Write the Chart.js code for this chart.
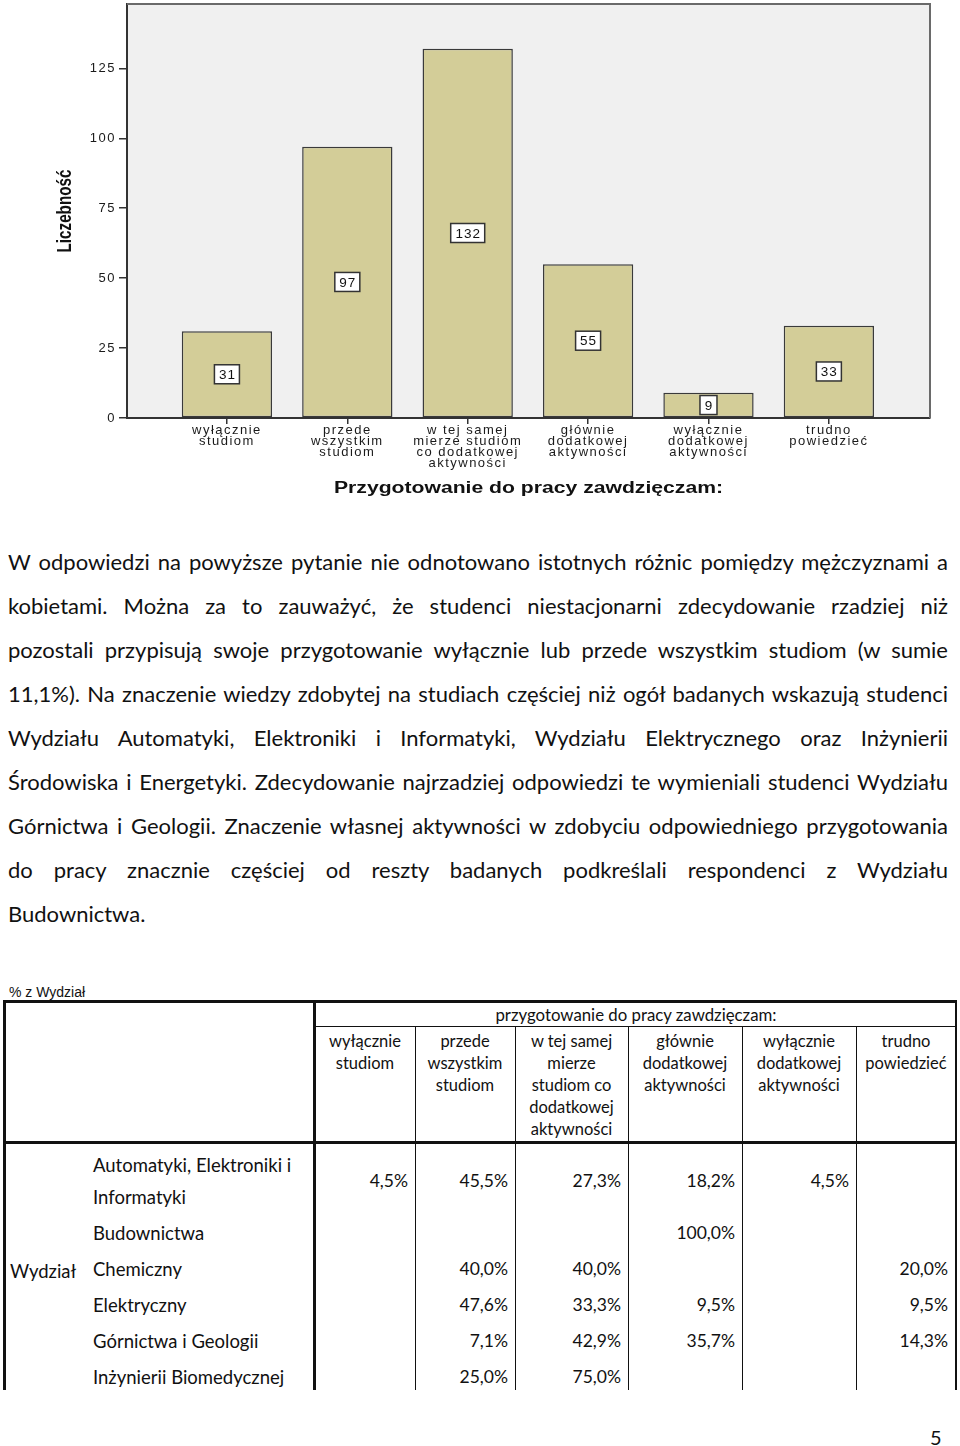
<!DOCTYPE html>
<html><head><meta charset="utf-8">
<script src="https://cdn.jsdelivr.net/npm/chart.js@4/dist/chart.umd.min.js"></script>
<style>
html,body{margin:0;padding:0;background:#fff;}
body{width:960px;height:1446px;position:relative;overflow:hidden;font-family:Lato,"Open Sans",sans-serif;color:#111;}
#chartBox{position:absolute;left:0;top:0;width:960px;height:500px;}
.pl{position:absolute;left:8px;width:940px;height:44px;line-height:44px;font-size:22px;white-space:nowrap;}
.abs{position:absolute;white-space:nowrap;}
.ln{position:absolute;background:#111;}
.hd{position:absolute;top:1030px;text-align:center;font-size:16.5px;line-height:22px;white-space:nowrap;}
.nm{position:absolute;left:93px;font-size:18.5px;line-height:36px;white-space:nowrap;}
.val{position:absolute;text-align:right;font-size:17.5px;line-height:36px;}
</style></head><body>
<div id="chartBox"><canvas id="c" width="960" height="500"></canvas></div>
<div id="page"></div>
<script>
// ---- chart data ----
const categories = [["wyłącznie","studiom"],["przede","wszystkim","studiom"],["w tej samej","mierze studiom","co dodatkowej","aktywności"],["głównie","dodatkowej","aktywności"],["wyłącznie","dodatkowej","aktywności"],["trudno","powiedzieć"]];
const counts = [31, 97, 132, 55, 9, 33];
const yTicks = [0, 25, 50, 75, 100, 125];
const yTitle = "Liczebność";
const xTitle = "Przygotowanie do pracy zawdzięczam:";

// ---- text data ----
const paraLines = [
"W odpowiedzi na powyższe pytanie nie odnotowano istotnych różnic pomiędzy mężczyznami a",
"kobietami. Można za to zauważyć, że studenci niestacjonarni zdecydowanie rzadziej niż",
"pozostali przypisują swoje przygotowanie wyłącznie lub przede wszystkim studiom (w sumie",
"11,1%). Na znaczenie wiedzy zdobytej na studiach częściej niż ogół badanych wskazują studenci",
"Wydziału Automatyki, Elektroniki i Informatyki, Wydziału Elektrycznego oraz Inżynierii",
"Środowiska i Energetyki. Zdecydowanie najrzadziej odpowiedzi te wymieniali studenci Wydziału",
"Górnictwa i Geologii. Znaczenie własnej aktywności w zdobyciu odpowiedniego przygotowania",
"do pracy znacznie częściej od reszty badanych podkreślali respondenci z Wydziału",
"Budownictwa."
];
const tableCaption = "% z Wydział";
const tableTitle = "przygotowanie do pracy zawdzięczam:";
const colHeaders = [["wyłącznie","studiom"],["przede","wszystkim","studiom"],["w tej samej","mierze","studiom co","dodatkowej","aktywności"],["głównie","dodatkowej","aktywności"],["wyłącznie","dodatkowej","aktywności"],["trudno","powiedzieć"]];
const rowGroup = "Wydział";
const rowNames = [["Automatyki, Elektroniki i","Informatyki"],["Budownictwa"],["Chemiczny"],["Elektryczny"],["Górnictwa i Geologii"],["Inżynierii Biomedycznej"]];
const tableValues = [
 ["4,5%","45,5%","27,3%","18,2%","4,5%",""],
 ["","","","100,0%","",""],
 ["","40,0%","40,0%","","","20,0%"],
 ["","47,6%","33,3%","9,5%","","9,5%"],
 ["","7,1%","42,9%","35,7%","","14,3%"],
 ["","25,0%","75,0%","","",""]
];
const pageNumber = "5";

// ---- chart ----
const AX = '"Liberation Sans", Arial, sans-serif';
const LS = '1.5px';
const framePlugin = {
  id: 'frame',
  beforeLayout(chart){ chart.ctx.letterSpacing = LS; },
  beforeDraw(chart){
    const ctx = chart.ctx, a = chart.chartArea;
    ctx.letterSpacing = LS;
    ctx.save();
    ctx.fillStyle = '#f0f0f0';
    ctx.fillRect(a.left, a.top, a.right - a.left, a.bottom - a.top);
    ctx.restore();
  },
  afterDraw(chart){
    const ctx = chart.ctx, a = chart.chartArea;
    ctx.save();
    ctx.strokeStyle = '#6a6a6a'; ctx.lineWidth = 2;
    ctx.beginPath(); ctx.moveTo(a.left, a.top); ctx.lineTo(a.right, a.top); ctx.lineTo(a.right, a.bottom); ctx.stroke();
    // value labels
    const meta = chart.getDatasetMeta(0);
    ctx.font = '13.5px ' + AX;
    ctx.letterSpacing = '1px';
    ctx.textAlign = 'center'; ctx.textBaseline = 'middle';
    meta.data.forEach((bar, i) => {
      const t = String(counts[i]);
      const cx = bar.x, cy = (bar.y + bar.base) / 2;
      const w = ctx.measureText(t).width;
      const bw = Math.round(w + 8), bh = 19;
      ctx.fillStyle = '#fff';
      ctx.fillRect(cx - bw/2, cy - bh/2, bw, bh);
      ctx.strokeStyle = '#333'; ctx.lineWidth = 1.5;
      ctx.strokeRect(cx - bw/2, cy - bh/2, bw, bh);
      ctx.fillStyle = '#111';
      ctx.fillText(t, cx + 0.5, cy + 1);
    });
    // axis titles (stretched like the original)
    ctx.letterSpacing = '0px';
    ctx.fillStyle = '#111';
    ctx.font = 'bold 16px ' + AX;
    let w0 = ctx.measureText(xTitle).width;
    ctx.save();
    ctx.translate((a.left + a.right) / 2, 489);
    ctx.scale(389 / w0, 1);
    ctx.fillText(xTitle, 0, 0);
    ctx.restore();
    ctx.font = 'bold 20px ' + AX;
    w0 = ctx.measureText(yTitle).width;
    ctx.translate(65, (a.top + a.bottom) / 2);
    ctx.rotate(-Math.PI / 2);
    ctx.scale(83 / w0, 1);
    ctx.fillText(yTitle, 0, 0);
    ctx.restore();
  }
};

new Chart(document.getElementById('c'), {
  type: 'bar',
  data: {
    datasets: [{
      data: counts.map((v, i) => ({x: i, y: v})),
      backgroundColor: '#d3cd98',
      borderColor: '#3a3a3a',
      borderWidth: 1.5,
      borderSkipped: false,
      barPercentage: 0.75,
      categoryPercentage: 1.0
    }]
  },
  options: {
    responsive: false,
    devicePixelRatio: 1,
    animation: false,
    layout: { padding: { left: 0, right: 30, top: 4, bottom: 0 } },
    plugins: { legend: { display: false }, tooltip: { enabled: false }, title: { display: false } },
    scales: {
      x: {
        type: 'linear', min: -0.83, max: 5.84, offset: false,
        afterBuildTicks: s => { s.ticks = categories.map((c, i) => ({ value: i })); },
        afterFit: s => { s.height = 82; s.paddingLeft = 0; s.paddingRight = 0; },
        ticks: { callback: v => categories[v], autoSkip: false, maxRotation: 0, minRotation: 0, color: '#1a1a1a', padding: 1, font: { family: AX, size: 13, lineHeight: 0.85 } },
        grid: { offset: false, drawOnChartArea: false, drawTicks: true, tickLength: 6, color: '#333', lineWidth: 1.5 },
        border: { display: true, color: '#333', width: 2 }
      },
      y: {
        min: 0, max: 148,
        afterBuildTicks: s => { s.ticks = yTicks.map(v => ({ value: v })); },
        afterFit: s => { s.width = 127; s.paddingTop = 0; s.paddingBottom = 0; },
        ticks: { color: '#1a1a1a', padding: 3, font: { family: AX, size: 13 } },
        grid: { drawOnChartArea: false, drawTicks: true, tickLength: 8, color: '#333', lineWidth: 1.5 },
        border: { display: true, color: '#333', width: 2 }
      }
    }
  },
  plugins: [framePlugin]
});

// ---- text & table ----
const page = document.getElementById('page');
function el(cls, styles, html){ const d = document.createElement('div'); d.className = cls; Object.assign(d.style, styles); d.innerHTML = html; page.appendChild(d); return d; }

const lineSpans = [];
paraLines.forEach((t, i) => {
  const d = el('pl', { top: (540 + 44 * i) + 'px' }, '');
  const s = document.createElement('span'); s.textContent = t; d.appendChild(s);
  if (i < paraLines.length - 1) lineSpans.push(s);
});
function justify(){
  lineSpans.forEach(s => {
    s.style.wordSpacing = '0px';
    const w = s.getBoundingClientRect().width;
    const n = (s.textContent.match(/ /g) || []).length;
    s.style.wordSpacing = ((940 - w) / n).toFixed(3) + 'px';
  });
}
justify();
if (document.fonts && document.fonts.ready) document.fonts.ready.then(justify);

el('abs', { left: '9px', top: '983px', fontFamily: AX, fontSize: '14px', lineHeight: '18px' }, tableCaption);

const xs = [315, 415, 515, 628, 742, 856, 956];
// lines
el('ln', { left: '3px', top: '1000px', width: '954px', height: '3px' }, '');
el('ln', { left: '3px', top: '1000px', width: '3px', height: '390px' }, '');
el('ln', { left: '313px', top: '1000px', width: '3px', height: '390px' }, '');
el('ln', { left: '955px', top: '1000px', width: '2px', height: '390px' }, '');
el('ln', { left: '316px', top: '1026px', width: '640px', height: '1px' }, '');
for (let k = 1; k < 6; k++) el('ln', { left: xs[k] + 'px', top: '1027px', width: '1px', height: '363px' }, '');
el('ln', { left: '3px', top: '1141px', width: '954px', height: '3px' }, '');

el('abs', { left: '316px', width: '640px', top: '1004px', height: '22px', lineHeight: '22px', fontSize: '16.8px', textAlign: 'center' }, tableTitle);
colHeaders.forEach((lines, k) => {
  el('hd', { left: xs[k] + 'px', width: (xs[k+1] - xs[k]) + 'px' }, lines.join('<br>'));
});

const rowCenters = [1181, 1233, 1269, 1305, 1341, 1377];
rowNames.forEach((lines, r) => {
  if (lines.length === 2) {
    el('nm', { top: (1165 - 16) + 'px', lineHeight: '32px' }, lines.join('<br>'));
  } else {
    el('nm', { top: (rowCenters[r] - 18) + 'px' }, lines[0]);
  }
  tableValues[r].forEach((v, k) => {
    if (!v) return;
    const right = (k === 5) ? 8 : 7;
    el('val', { left: xs[k] + 'px', width: (xs[k+1] - xs[k] - right) + 'px', top: (rowCenters[r] - 18) + 'px' }, v);
  });
});
el('nm', { left: '10px', top: (1271 - 18) + 'px' }, rowGroup);
el('abs', { left: '930px', top: '1424px', fontSize: '20px', lineHeight: '26px' }, pageNumber);
</script>
</body></html>
